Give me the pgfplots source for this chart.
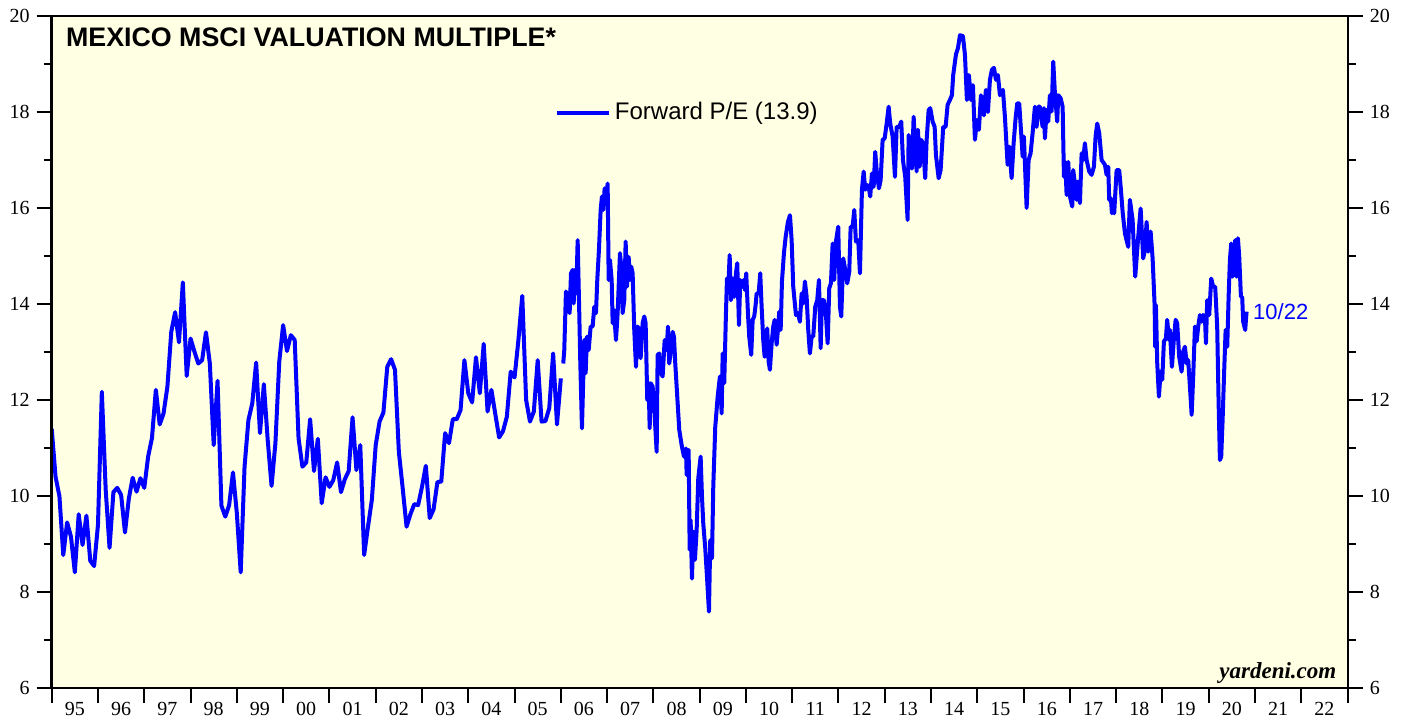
\documentclass[border=0pt]{standalone}
\usepackage{fontspec}
\setmainfont{Liberation Serif}
\newfontfamily\arial{Liberation Sans}
\usepackage{pgfplots}
\usepackage{pgfplotstable}
\pgfplotsset{compat=1.18}
\definecolor{panel}{RGB}{255,255,228}
\definecolor{peblue}{RGB}{0,0,255}

% Monthly forward P/E, Jan 1995 - Jan 2006
\pgfplotstableread{
pe
11.40
10.40
10.00
8.77
9.45
9.15
8.41
9.62
8.98
9.59
8.65
8.54
9.40
12.17
10.13
8.92
10.08
10.17
10.02
9.24
9.95
10.38
10.09
10.37
10.17
10.82
11.21
12.21
11.49
11.72
12.28
13.42
13.83
13.20
14.45
12.50
13.28
13.01
12.76
12.83
13.41
12.76
11.06
12.40
9.80
9.57
9.81
10.49
9.64
8.41
10.61
11.58
11.93
12.78
11.31
12.33
11.17
10.21
11.10
12.80
13.56
13.02
13.35
13.25
11.20
10.61
10.70
11.60
10.52
11.19
9.85
10.39
10.19
10.33
10.70
10.08
10.35
10.52
11.64
10.54
11.06
8.77
9.36
9.92
11.06
11.55
11.74
12.69
12.85
12.63
10.92
10.16
9.36
9.62
9.83
9.81
10.19
10.63
9.54
9.72
10.29
10.30
11.31
11.10
11.60
11.60
11.79
12.83
12.14
11.95
12.89
12.14
13.17
11.76
12.21
11.71
11.22
11.35
11.65
12.59
12.47
13.25
14.17
12.00
11.55
11.76
12.83
11.55
11.56
11.83
12.97
11.49
12.45
}\monthly

% Weekly forward P/E, 2006 - Oct 2020
\pgfplotstableread{
year pe
2006.052 12.76
2006.074 13.04
2006.110 14.26
2006.154 14.15
2006.190 13.81
2006.219 14.64
2006.255 14.71
2006.277 14.01
2006.305 14.71
2006.333 14.22
2006.363 15.33
2006.398 13.81
2006.419 12.83
2006.456 11.41
2006.506 13.25
2006.536 12.56
2006.564 13.32
2006.601 13.04
2006.644 13.53
2006.687 13.53
2006.722 13.94
2006.759 13.81
2006.787 14.50
2006.823 15.13
2006.860 15.96
2006.888 16.24
2006.916 15.96
2006.946 16.41
2006.975 16.17
2007.011 16.51
2007.033 14.50
2007.061 14.92
2007.098 14.50
2007.119 13.60
2007.147 13.88
2007.191 13.25
2007.227 13.81
2007.277 15.06
2007.305 14.78
2007.335 13.81
2007.370 14.08
2007.400 15.30
2007.428 14.36
2007.465 14.98
2007.493 14.50
2007.521 14.78
2007.551 14.64
2007.586 13.46
2007.623 12.69
2007.659 13.53
2007.694 13.46
2007.724 12.87
2007.767 13.60
2007.802 13.74
2007.832 13.60
2007.867 12.00
2007.897 12.35
2007.919 11.41
2007.940 12.35
2007.983 12.28
2008.012 11.93
2008.070 10.92
2008.091 12.94
2008.126 12.97
2008.163 12.56
2008.199 12.49
2008.243 13.25
2008.286 13.04
2008.314 13.53
2008.342 12.76
2008.379 13.04
2008.416 13.42
2008.444 13.32
2008.472 12.76
2008.515 12.07
2008.558 11.38
2008.610 11.06
2008.660 10.82
2008.703 10.99
2008.718 10.44
2008.761 10.96
2008.783 8.88
2008.804 9.50
2008.833 8.28
2008.861 9.26
2008.897 8.67
2008.934 9.29
2008.969 10.37
2009.020 10.82
2009.049 9.99
2009.077 9.43
2009.120 8.91
2009.157 8.32
2009.200 7.59
2009.228 9.08
2009.265 8.70
2009.293 10.19
2009.336 11.44
2009.388 12.07
2009.437 12.49
2009.474 11.72
2009.496 12.97
2009.530 12.35
2009.567 13.81
2009.589 14.53
2009.625 14.50
2009.647 15.02
2009.675 14.08
2009.712 14.53
2009.746 14.15
2009.783 14.64
2009.811 14.85
2009.848 13.56
2009.876 14.50
2009.912 14.36
2009.949 14.50
2009.977 14.29
2010.005 14.64
2010.042 13.81
2010.070 13.32
2010.113 12.94
2010.144 13.67
2010.178 13.74
2010.208 13.98
2010.230 14.22
2010.273 14.22
2010.308 14.64
2010.338 13.94
2010.373 13.25
2010.403 12.90
2010.431 13.11
2010.459 13.49
2010.489 12.80
2010.517 12.63
2010.554 13.18
2010.589 13.53
2010.619 13.67
2010.662 13.15
2010.690 13.46
2010.718 13.84
2010.749 13.46
2010.777 14.47
2010.820 15.06
2010.857 15.40
2010.906 15.71
2010.950 15.85
2010.986 15.33
2011.021 14.36
2011.079 13.77
2011.122 13.81
2011.165 13.63
2011.202 14.22
2011.237 14.01
2011.273 14.47
2011.310 14.15
2011.345 13.46
2011.381 12.97
2011.418 13.32
2011.453 13.32
2011.496 13.94
2011.539 14.08
2011.576 14.50
2011.613 13.08
2011.641 14.08
2011.684 14.08
2011.721 13.88
2011.764 13.18
2011.799 14.33
2011.835 14.43
2011.872 15.26
2011.906 14.50
2011.943 15.30
2011.993 15.61
2012.030 13.94
2012.058 13.74
2012.101 14.95
2012.144 14.71
2012.187 14.43
2012.231 14.67
2012.261 15.61
2012.304 15.61
2012.339 15.96
2012.375 15.30
2012.425 15.33
2012.462 14.64
2012.505 16.38
2012.542 16.76
2012.576 16.38
2012.613 16.48
2012.650 16.44
2012.684 16.24
2012.721 16.72
2012.758 16.44
2012.792 17.17
2012.829 16.72
2012.872 16.41
2012.909 16.58
2012.952 17.42
2012.996 17.45
2013.039 17.76
2013.082 18.11
2013.116 17.76
2013.168 17.49
2013.218 16.65
2013.255 17.69
2013.311 17.69
2013.354 17.80
2013.391 17.00
2013.440 16.65
2013.492 15.75
2013.514 17.52
2013.557 17.24
2013.585 16.82
2013.622 17.90
2013.656 17.28
2013.687 16.76
2013.715 17.63
2013.752 16.86
2013.786 17.42
2013.823 17.35
2013.872 16.62
2013.903 17.42
2013.946 18.04
2013.981 18.08
2014.032 17.80
2014.076 17.69
2014.104 17.10
2014.162 16.62
2014.205 16.79
2014.261 17.69
2014.313 17.69
2014.356 18.15
2014.406 18.25
2014.449 18.35
2014.477 18.77
2014.536 19.20
2014.579 19.33
2014.623 19.60
2014.687 19.58
2014.730 19.20
2014.773 18.25
2014.816 18.77
2014.860 18.25
2014.903 18.56
2014.946 17.42
2014.989 17.83
2015.032 17.63
2015.076 18.35
2015.140 17.93
2015.183 18.46
2015.227 18.00
2015.270 18.67
2015.313 18.88
2015.357 18.92
2015.400 18.67
2015.443 18.77
2015.486 18.35
2015.551 18.46
2015.594 17.90
2015.652 16.90
2015.687 17.28
2015.739 16.62
2015.782 17.35
2015.825 17.87
2015.860 18.18
2015.903 18.18
2015.940 17.63
2015.977 17.07
2016.004 17.49
2016.063 16.00
2016.106 17.00
2016.149 17.14
2016.192 17.56
2016.242 18.11
2016.279 17.69
2016.314 18.11
2016.350 18.11
2016.408 17.69
2016.437 18.08
2016.458 17.45
2016.495 18.04
2016.530 17.80
2016.566 18.35
2016.603 18.01
2016.638 19.05
2016.674 18.39
2016.724 17.80
2016.746 18.35
2016.797 18.29
2016.841 18.11
2016.869 16.65
2016.897 16.96
2016.927 16.27
2016.962 16.96
2016.999 16.24
2017.048 16.03
2017.070 16.79
2017.106 16.51
2017.143 16.17
2017.164 16.55
2017.215 16.10
2017.251 17.14
2017.286 17.00
2017.322 17.35
2017.359 17.00
2017.415 16.76
2017.467 16.69
2017.517 16.86
2017.553 17.49
2017.588 17.76
2017.631 17.56
2017.683 17.00
2017.755 16.90
2017.791 16.69
2017.826 16.86
2017.847 16.17
2017.884 16.20
2017.906 15.89
2017.934 16.10
2017.955 15.89
2018.007 16.79
2018.063 16.79
2018.100 16.38
2018.137 15.92
2018.187 15.47
2018.258 15.19
2018.294 16.17
2018.353 15.75
2018.409 14.57
2018.474 15.40
2018.526 15.99
2018.582 14.95
2018.619 15.13
2018.655 15.71
2018.690 15.09
2018.742 15.51
2018.785 14.95
2018.828 13.98
2018.841 13.11
2018.856 13.98
2018.885 12.76
2018.921 12.07
2018.958 12.59
2018.993 12.42
2019.029 13.22
2019.072 13.28
2019.100 13.67
2019.137 13.25
2019.158 13.46
2019.202 12.69
2019.245 13.28
2019.282 13.67
2019.316 13.60
2019.359 12.90
2019.411 12.59
2019.446 13.01
2019.483 13.11
2019.520 12.76
2019.554 12.83
2019.591 12.28
2019.628 11.69
2019.662 12.49
2019.699 13.53
2019.736 13.22
2019.770 13.53
2019.807 13.77
2019.844 13.63
2019.878 13.77
2019.915 13.74
2019.937 13.18
2019.965 14.08
2020.008 13.77
2020.051 14.53
2020.094 14.36
2020.137 14.36
2020.180 13.53
2020.211 11.93
2020.239 10.75
2020.267 10.82
2020.297 11.58
2020.332 12.63
2020.362 13.46
2020.397 13.11
2020.427 14.15
2020.455 14.92
2020.483 15.26
2020.513 14.57
2020.541 14.85
2020.569 15.33
2020.600 14.57
2020.628 15.37
2020.656 14.99
2020.693 14.15
2020.720 14.15
2020.742 13.63
2020.785 13.46
2020.815 13.84
}\weekly

\pgfplotsset{
  peframe/.style={
    at={(0,0)}, anchor=south west,
    scale only axis, width=648pt, height=336pt,
    xmin=1995, xmax=2023, ymin=6, ymax=20,
    axis line style={line width=1.2pt, black},
    tick align=outside,
    major tick length=7.5pt, minor tick length=4pt,
    tick style={line width=1pt, black},
    ytick={6,8,...,20}, minor ytick={7,9,...,19},
    /pgf/number format/assume math mode=true,
    tick label style={font=\fontsize{10}{11}\selectfont},
  }
}

\begin{document}
\begin{tikzpicture}
\useasboundingbox (-25.85pt,-14.5pt) rectangle (677.65pt,344pt);
\begin{axis}[
  peframe,
  axis background/.style={fill=panel},
  xtick={1995,...,2023}, xticklabels={},
  extra x ticks={1995.5,1996.5,...,2022.5},
  extra x tick labels={95,96,97,98,99,00,01,02,03,04,05,06,07,08,09,10,11,12,13,14,15,16,17,18,19,20,21,22},
  extra x tick style={tick style={draw=none},
    xticklabel style={inner sep=0pt, yshift=0.6pt}},
  xtick pos=bottom, ytick pos=left,
  legend style={at={(0.388,0.856)}, anchor=west, draw=none, fill=none,
    inner sep=0pt, font=\arial\fontsize{12}{14}\selectfont},
  legend cell align=left,
  legend image code/.code={
    \draw[#1] (0pt,0pt) -- (21.5pt,0pt);
    \path (0pt,0pt) -- (26pt,0pt);},
]
\addplot[peblue, line width=2pt, line join=round, forget plot]
  table[x expr=1995+\coordindex/12, y=pe] {\monthly};
\addplot[peblue, line width=2pt, line join=round]
  table[x=year, y=pe] {\weekly};
\addlegendentry{Forward P/E (13.9)}
\node[anchor=north west, inner sep=0pt, font=\arial\bfseries\fontsize{13.4}{15}\selectfont]
  at (rel axis cs:0,1) [xshift=7pt, yshift=-5.5pt] {MEXICO MSCI VALUATION MULTIPLE*};
\node[anchor=west, inner sep=0pt, text=peblue, font=\arial\fontsize{11}{13}\selectfont]
  at (axis cs:2020.95,13.85) {10/22};
\node[anchor=south east, inner sep=0pt, font=\bfseries\itshape\fontsize{11.5}{13}\selectfont]
  at (rel axis cs:1,0) [xshift=-5.5pt, yshift=2pt] {yardeni.com};
\end{axis}
\begin{axis}[
  peframe,
  xtick=\empty,
  ytick pos=right, yticklabel pos=right,
]
\addplot[draw=none] coordinates {(2000,10)};
\end{axis}
\end{tikzpicture}
\end{document}
